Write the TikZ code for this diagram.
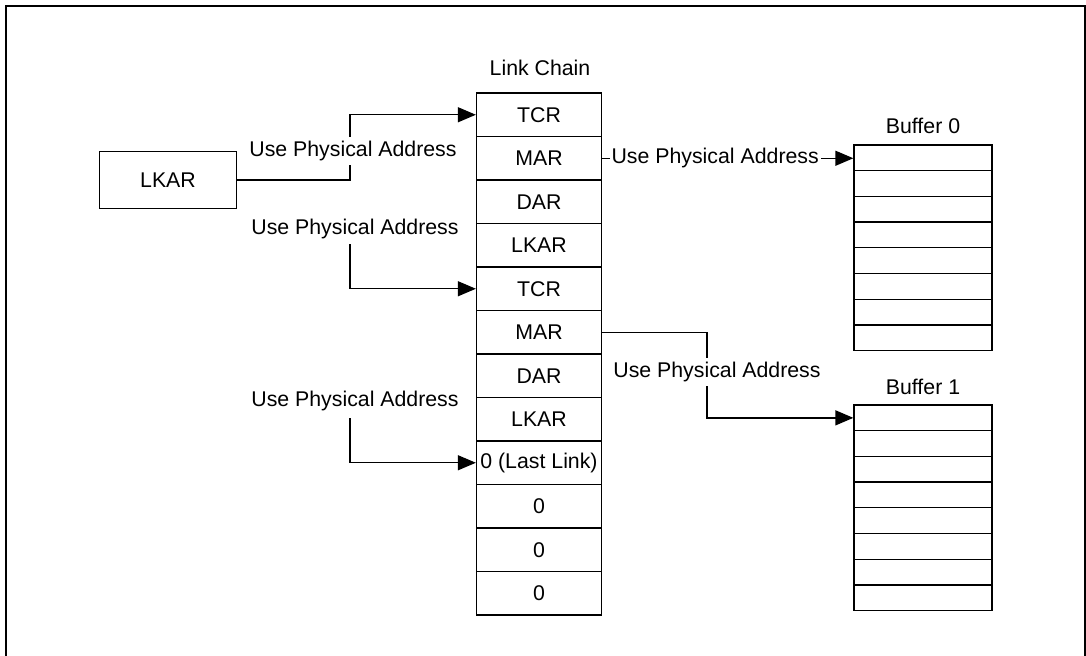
\documentclass[tikz,border=0pt]{standalone}
\usepackage{fontspec}
\setmainfont{Liberation Sans}
\usetikzlibrary{arrows.meta,calc}

\tikzset{
  cell/.style={draw, line width=0.65pt, minimum width=62.5pt, minimum height=21.75pt, inner sep=0pt},
  bufcell/.style={draw, line width=0.65pt, minimum width=69pt, minimum height=12.85pt, inner sep=0pt},
  link/.style={line width=0.65pt, -{Triangle[length=9pt,width=7.5pt]}},
  lbl/.style={fill=white, inner xsep=1pt, inner ysep=2pt},
}

\begin{document}
\begin{tikzpicture}[x=0.5pt, y=-0.5pt, font=\fontsize{10.65}{12}\selectfont]
\clip (0,0) rectangle (1086,655);
\useasboundingbox (0,0) rectangle (1086,655);
\draw[line width=1pt] (6,680) -- (6,6) -- (1085,6) -- (1085,680);

% link chain
\node (chainlbl) at (540,68) {Link Chain};
\foreach \txt [count=\i] in {TCR,MAR,DAR,LKAR,TCR,MAR,DAR,LKAR,{0 (Last Link)},0,0,0}
  \node[cell] (c\i) at (539,{93+43.5*(\i-0.5)}) {\txt};

% buffers
\node (buf0lbl) at (923,126) {Buffer 0};
\node (buf1lbl) at (923,387) {Buffer 1};
\foreach \i in {1,...,8} {
  \node[bufcell] (b0r\i) at (923,{145+25.7*(\i-0.5)}) {};
  \node[bufcell] (b1r\i) at (923,{405+25.7*(\i-0.5)}) {};
}

% register
\node[draw, line width=0.65pt, minimum width=68.7pt, minimum height=28.6pt, inner sep=0pt] (lkar) at (168,180) {LKAR};

\coordinate (j1) at (350,0);
\coordinate (s2) at (350,244);
\coordinate (s3) at (350,418);
\coordinate (j2) at (707,0);

\draw[link] (lkar.east) -| (j1 |- c1.west) -- (c1.west);
\draw[link] (s2) |- (c5.west);
\draw[link] (s3) |- (c9.west);
\draw[link] (c2.east) -- (b0r1.west |- c2.east)
  node[lbl, pos=0.45] {Use Physical Address};
\draw[link] (c6.east) -- (c6.east -| j2) |- (b1r1.west);

\node[lbl] (u1) at (353,151) {Use Physical Address};
\node[lbl] (u2) at (355,229) {Use Physical Address};
\node[lbl] (u3) at (355,401) {Use Physical Address};
\node[lbl] (u4) at (717,372) {Use Physical Address};
\end{tikzpicture}
\end{document}
